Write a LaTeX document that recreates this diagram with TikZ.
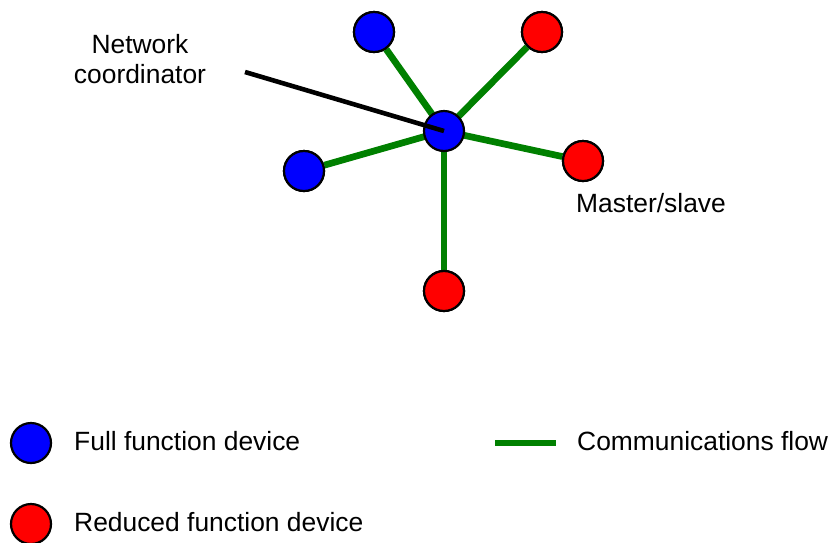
\documentclass[tikz,border=0pt]{standalone}
\usepackage{fontspec}
\setmainfont{Liberation Sans}
\begin{document}
\begin{tikzpicture}[x=1pt,y=-1pt,
  dev/.style={circle,draw=black,line width=2.2pt,minimum size=40pt,inner sep=0pt},
  ffd/.style={dev,fill=blue},
  rfd/.style={dev,fill=red},
  flow/.style={draw={rgb,255:red,0;green,128;blue,0},line width=6.7pt},
  lbl/.style={inner sep=0pt,font=\fontsize{26.4}{30}\selectfont},
  pointer/.style={draw=black,line width=4.6pt}]
\useasboundingbox (0,0) rectangle (832,542);

% star network: coordinator in the middle
\coordinate (hub) at (444,131);
\coordinate (ptr) at (245,72);
\node[ffd] (tl) at (374,32) {};
\node[rfd] (tr) at (542,32) {};
\node[ffd] (l)  at (304,171) {};
\node[rfd] (r)  at (583,161) {};
\node[rfd] (b)  at (444,291) {};

\foreach \n in {tl,tr,l,r,b} \draw[flow] (hub) -- (\n);
\node[ffd] (c) at (hub) {};
\node[ffd] at (tl) {};
\node[ffd] at (l) {};
\node[rfd] at (tr) {};
\node[rfd] at (r) {};
\node[rfd] at (b) {};

% label pointer ends inside the coordinator
\draw[pointer] (ptr) -- (c.center);
\node[lbl,align=center,anchor=base] (nc) at (140,83) {Network\\coordinator};
\node[lbl,anchor=base west] (ms) at (576,212) {Master/slave};

% legend
\node[ffd] (kf) at (31,443) {};
\node[rfd] (kr) at (31,524) {};
\node[lbl,anchor=base west] (tf) at (74,450) {Full function device};
\node[lbl,anchor=base west] (tr2) at (74,531) {Reduced function device};
\coordinate (ka) at (495,443);
\coordinate (kb) at (556,443);
\draw[flow] (ka) -- (kb);
\node[lbl,anchor=base west] (tc) at (577,450) {Communications flow};
\end{tikzpicture}
\end{document}
